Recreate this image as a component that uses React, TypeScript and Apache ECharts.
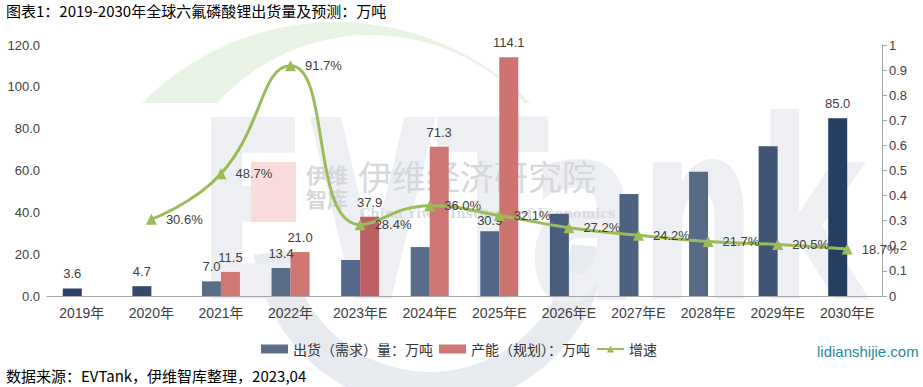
import React, { useEffect, useRef } from "react";
import * as echarts from "echarts";

const categories = [
  "2019年", "2020年", "2021年", "2022年", "2023年E", "2024年E",
  "2025年E", "2026年E", "2027年E", "2028年E", "2029年E", "2030年E",
];
const shipment = [3.6, 4.7, 7.0, 13.4, 17.2, 23.4, 30.9, 39.3, 48.8, 59.4, 71.6, 85.0];
const shipmentLabelShown = [true, true, true, true, false, false, true, false, false, false, false, true];
const capacity = [null, null, 11.5, 21.0, 37.9, 71.3, 114.1, null, null, null, null, null];
const growth = [null, 0.306, 0.487, 0.917, 0.284, 0.36, 0.321, 0.272, 0.242, 0.217, 0.205, 0.187];
const leftTicks = { min: 0, max: 120, interval: 20 };
const rightTicks = { min: 0, max: 1, interval: 0.1 };

const shipmentColors = [
  "#2C4266", "#34496B", "#5A6D88", "#5A6D88", "#56698A", "#5A6D88",
  "#52668A", "#485D7D", "#4D6180", "#586B86", "#415676", "#263E62",
];
const capacityColors = [
  "#CF7672", "#CF7672", "#D07774", "#CF7572", "#BD6063", "#CF7572",
  "#CD7470", "#CF7672", "#CF7672", "#CF7672", "#CF7672", "#CF7672",
];
const shipmentLabelDistance = [8, 8, 8, 8, 8, 8, 4, 8, 8, 8, 8, 8];

const NUM_FONT = "'Liberation Sans', Arial, 'Noto Sans CJK SC', sans-serif";
const CJK_FONT = "'Noto Sans CJK SC', 'Liberation Sans', sans-serif";

// decorative crescent (logo swoosh) built from two circles
function crescentPoints(): number[][] {
  const pts: number[][] = [];
  const o = { cx: 336, cy: 295, r: 273, a0: (-135.3 * Math.PI) / 180, a1: (-44.7 * Math.PI) / 180 };
  const n = { cx: 371, cy: 243, r: 208, a0: (-137.7 * Math.PI) / 180, a1: (-42.3 * Math.PI) / 180 };
  const steps = 40;
  for (let i = 0; i <= steps; i++) {
    const a = o.a0 + ((o.a1 - o.a0) * i) / steps;
    pts.push([o.cx + o.r * Math.cos(a), o.cy + o.r * Math.sin(a)]);
  }
  for (let i = steps; i >= 0; i--) {
    const a = n.a0 + ((n.a1 - n.a0) * i) / steps;
    pts.push([n.cx + n.r * Math.cos(a), n.cy + n.r * Math.sin(a)]);
  }
  return pts;
}

export default function App() {
  const ref = useRef<HTMLDivElement>(null);
  useEffect(() => {
    if (!ref.current) return;
    const chart = echarts.init(ref.current, null, { renderer: "svg" });
    const option: any = {
      animation: false,
      backgroundColor: "#ffffff",
      textStyle: { fontFamily: NUM_FONT },
      grid: { left: 47, right: 41, top: 45, bottom: 91 },
      legend: {
        left: 256,
        top: 337,
        itemWidth: 27,
        itemHeight: 9,
        itemGap: 6,
        textStyle: { fontSize: 14, color: "#333333", fontFamily: CJK_FONT },
        data: [
          { name: "出货（需求）量：万吨", icon: "rect" },
          { name: "产能（规划）：万吨", icon: "rect" },
          { name: "增速" },
        ],
      },
      graphic: [
        {
          type: "polygon",
          z: -10,
          silent: true,
          shape: { points: crescentPoints() },
          style: { fill: "#E9F3E5" },
        },
        {
          type: "arc",
          z: -10,
          silent: true,
          shape: { cx: 430, cy: 230, r: 160, startAngle: 0.1, endAngle: 3.0, clockwise: true },
          style: { stroke: "#E7EAEF", lineWidth: 36, fill: null },
        },
        {
          type: "text",
          z: -9,
          silent: true,
          x: 196,
          y: 212,
          scaleX: 0.66,
          style: {
            text: "EVTank",
            font: "bold 250px 'DejaVu Sans'",
            fill: "#EDEFF3",
            verticalAlign: "middle",
          },
        },
        {
          type: "rect",
          z: -8,
          silent: true,
          shape: { x: 251, y: 162, width: 45, height: 60 },
          style: { fill: "#F9DCDC" },
        },
        {
          type: "text",
          z: -8,
          silent: true,
          x: 306,
          y: 162,
          style: { text: "伊维\n智库", font: "bold 21px 'Noto Sans CJK SC'", fill: "#D6D8DC", lineHeight: 24 },
        },
        {
          type: "text",
          z: -8,
          silent: true,
          x: 358,
          y: 158,
          style: { text: "伊维经济研究院", font: "34px 'Noto Sans CJK SC'", fill: "#D6D8DC" },
        },
        {
          type: "text",
          z: -8,
          silent: true,
          x: 360,
          y: 207,
          style: { text: "China Yiwei Institute of Economics", font: "bold 13px 'DejaVu Serif'", fill: "#DADCE0" },
        },
        {
          type: "text",
          left: 6,
          top: 3,
          style: {
            text: "图表1：2019-2030年全球六氟磷酸锂出货量及预测：万吨",
            font: "15px 'Noto Sans CJK SC'",
            fill: "#000000",
          },
        },
        {
          type: "text",
          left: 6,
          top: 368,
          style: {
            text: "数据来源：EVTank，伊维智库整理，2023,04",
            font: "15px 'Noto Sans CJK SC'",
            fill: "#000000",
          },
        },
        {
          type: "text",
          left: 817,
          top: 344,
          style: {
            text: "lidianshijie.com",
            font: "15px 'Liberation Sans'",
            fill: "#2A8A9A",
          },
        },
      ],
      xAxis: {
        type: "category",
        data: categories,
        axisLine: { lineStyle: { color: "#A6A6A6", width: 1 } },
        axisTick: { show: false },
        axisLabel: { interval: 0, color: "#404040", fontSize: 14, margin: 10, fontFamily: NUM_FONT },
      },
      yAxis: [
        {
          type: "value",
          ...leftTicks,
          splitLine: { show: false },
          axisLine: { show: false },
          axisTick: { show: false },
          axisLabel: {
            color: "#404040",
            fontSize: 13,
            margin: 7,
            fontFamily: NUM_FONT,
            formatter: (v: number) => v.toFixed(1),
          },
        },
        {
          type: "value",
          position: "right",
          ...rightTicks,
          splitLine: { show: false },
          axisLine: { show: true, lineStyle: { color: "#A6A6A6" } },
          axisTick: { show: true, length: 5, lineStyle: { color: "#A6A6A6" } },
          axisLabel: {
            color: "#404040",
            fontSize: 13,
            margin: 7,
            fontFamily: NUM_FONT,
            formatter: (v: number) => String(Math.round(v * 10) / 10),
          },
        },
      ],
      series: [
        {
          name: "出货（需求）量：万吨",
          type: "bar",
          barWidth: 19,
          barGap: "0%",
          itemStyle: { color: "#5A6D88" },
          label: { show: false, position: "top", distance: 8, color: "#404040", fontSize: 13, fontFamily: NUM_FONT, formatter: (p: any) => Number(p.value).toFixed(1) },
          data: shipment.map((v, i) => ({
            value: v,
            itemStyle: { color: shipmentColors[i] },
            label: { show: shipmentLabelShown[i], distance: shipmentLabelDistance[i] },
          })),
        },
        {
          name: "产能（规划）：万吨",
          type: "bar",
          barWidth: 19,
          barGap: "0%",
          itemStyle: { color: "#CF7672" },
          label: { show: true, position: "top", distance: 8, color: "#404040", fontSize: 13, fontFamily: NUM_FONT, formatter: (p: any) => Number(p.value).toFixed(1) },
          data: capacity.map((v, i) => ({ value: v, itemStyle: { color: capacityColors[i] } })),
        },
        {
          name: "增速",
          type: "line",
          yAxisIndex: 1,
          smooth: 0.5,
          symbol: "triangle",
          symbolSize: 11,
          z: 5,
          lineStyle: { color: "#9BBB59", width: 3 },
          itemStyle: { color: "#9BBB59" },
          label: {
            show: true,
            position: "right",
            distance: 9,
            color: "#404040",
            fontSize: 13,
            fontFamily: NUM_FONT,
            formatter: (p: any) => (p.value * 100).toFixed(1) + "%",
          },
          data: growth,
        },
      ],
    };
    chart.setOption(option);
    return () => chart.dispose();
  }, []);
  return <div ref={ref} style={{ width: 923, height: 387, position: "absolute", left: 0, top: 0 }} />;
}
